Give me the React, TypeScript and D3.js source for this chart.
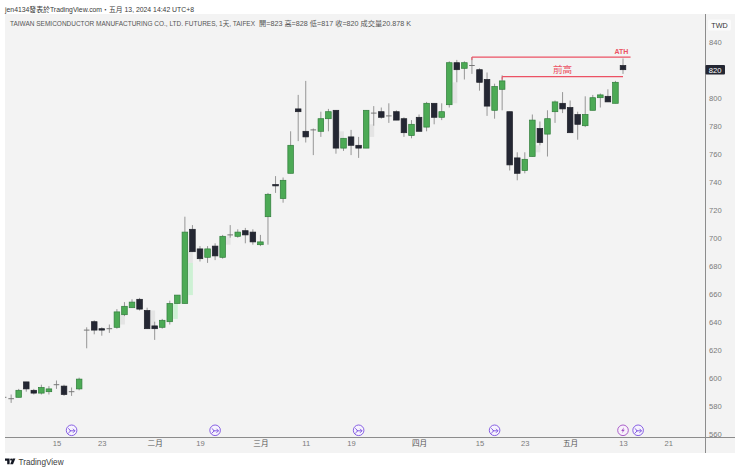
import React, { useEffect, useRef } from 'react';
import * as d3 from 'd3';

const opens = [586, 585, 586, 597, 591, 589, 590, 595, 594, 590, 592, 634, 640, 635, 635, 636, 645, 650, 656, 648, 637, 636, 640, 653, 653, 706, 692, 686, 694, 686, 702, 701, 705, 704, 695, 715, 738, 728, 746, 792, 776, 777, 776, 785, 791, 764, 772, 766, 764, 789, 790, 787, 790, 785, 773, 786, 779, 796, 786, 795, 825, 821, 823, 820, 813, 791, 806, 790, 757, 748, 758, 778, 774, 790, 796, 793, 788, 780, 791, 800, 801, 796, 823];
const highs = [588, 588, 592, 597, 592, 595, 594, 598, 595, 593, 600, 636, 641, 636, 638, 649, 654, 656, 657, 650, 640, 642, 655, 659, 715, 709, 694, 694, 696, 702, 709, 706, 707, 706, 702, 732, 744, 743, 776, 802, 812, 778, 790, 792, 791, 771, 777, 772, 791, 794, 793, 796, 791, 786, 784, 788, 797, 796, 796, 826, 827, 826, 829, 821, 818, 810, 816, 790, 761, 761, 788, 783, 791, 798, 804, 798, 790, 801, 802, 803, 806, 812, 828];
const lows = [584, 582, 586, 590, 588, 588, 588, 592, 587, 587, 591, 621, 631, 630, 632, 635, 644, 650, 648, 635, 627, 635, 638, 653, 653, 690, 683, 682, 684, 685, 700, 700, 696, 695, 694, 695, 732, 725, 746, 769, 768, 759, 772, 776, 760, 762, 759, 757, 764, 780, 785, 782, 784, 772, 771, 776, 776, 781, 784, 793, 811, 813, 817, 805, 787, 785, 791, 748, 741, 746, 758, 766, 758, 782, 789, 775, 770, 779, 791, 793, 797, 796, 817];
const closes = [586, 585, 591, 592, 589, 593, 592, 595, 588, 590, 599, 634, 634, 634, 635, 647, 651, 654, 649, 635, 635, 641, 653, 659, 704, 690, 685, 692, 687, 701, 702, 704, 702, 697, 697, 731, 737, 741, 766, 790, 772, 777, 785, 790, 764, 771, 766, 764, 791, 789, 786, 787, 784, 775, 781, 776, 796, 786, 790, 825, 820, 825, 823, 811, 794, 808, 812, 752, 746, 756, 784, 768, 785, 797, 792, 775, 781, 788, 800, 802, 797, 811, 820];

// pale bars sitting just right of some candles
const ghostIdx = [15, 19, 22, 24, 24, 29, 44, 48, 59, 70];
const ghostTop = [645, 648, 653, 690, 682, 701, 776, 781, 811, 766];
const ghostBottom = [638, 637, 642, 682, 659, 695, 771, 772, 796, 761];
const ghostGreen = [false, false, true, false, true, false, false, false, false, false];

const priceTicks = d3.range(560, 841, 20);
const dateIdx = [7, 13, 20, 26, 34, 40, 46, 55, 63, 69, 75, 82, 88];
const dateLabels = ['15', '23', '二月', '19', '三月', '11', '19', '四月', '15', '23', '五月', '13', '21'];
const monthLabels = ['二月', '三月', '四月', '五月'];

const splitIdx = [9, 28, 47, 65, 84];
const boltIdx = [82];

const athLine = { from: 62, to: 83, price: 829, label: 'ATH' };
const prevHighLine = { from: 66, to: 82, price: 815, label: '前高' };

const lastPrice = 820;
const headerText = 'jen4134發表於TradingView.com・五月 13, 2024 14:42 UTC+8';
const titleText = 'TAIWAN SEMICONDUCTOR MANUFACTURING CO., LTD. FUTURES, 1天, TAIFEX';
const ohlcText = '開=823  高=828  低=817  收=820  成交量20.878 K';

const FONT = '"Liberation Sans", "Noto Sans CJK TC", sans-serif';
const RED = '#ec5264';
const PURPLE = '#7a4fe0';

const App: React.FC = () => {
  const svgRef = useRef<SVGSVGElement>(null);

  useEffect(() => {
    if (!svgRef.current) return;
    const svg = d3.select(svgRef.current);
    svg.selectAll('*').remove();

    const panel = { left: 5, right: 735, top: 14, bottom: 453 };
    const plotRight = 705.5;
    const plotBottom = 437.5;

    const x = d3.scaleLinear().domain([0, 82]).range([3.6, 623]);
    const y = d3.scaleLinear().domain([560, 840]).range([433.7, 41.7]);

    svg.append('rect').attr('width', 740).attr('height', 472).attr('fill', '#fff');

    svg.append('text').attr('x', 5).attr('y', 11.5)
      .attr('font-size', 7.2).attr('fill', '#3a3a3a')
      .attr('textLength', 189).attr('lengthAdjust', 'spacingAndGlyphs')
      .text(headerText);

    svg.append('rect')
      .attr('x', panel.left).attr('y', panel.top)
      .attr('width', panel.right - panel.left).attr('height', panel.bottom - panel.top)
      .attr('fill', '#f3f3f3');

    svg.append('clipPath').attr('id', 'plot').append('rect')
      .attr('x', panel.left).attr('y', panel.top)
      .attr('width', plotRight - panel.left).attr('height', plotBottom - panel.top);

    svg.append('text').attr('x', 10).attr('y', 26)
      .attr('font-size', 7).attr('fill', '#555')
      .attr('textLength', 245).attr('lengthAdjust', 'spacingAndGlyphs')
      .text(titleText);
    svg.append('text').attr('x', 259).attr('y', 26)
      .attr('font-size', 7).attr('fill', '#555')
      .attr('textLength', 152).attr('lengthAdjust', 'spacingAndGlyphs')
      .text(ohlcText);

    const g = svg.append('g').attr('clip-path', 'url(#plot)');

    // ghost bars
    g.selectAll('rect.ghost').data(ghostIdx).join('rect')
      .attr('class', 'ghost')
      .attr('x', d => x(d) + 3.4)
      .attr('width', 4.6)
      .attr('y', (_, i) => y(ghostTop[i]))
      .attr('height', (_, i) => y(ghostBottom[i]) - y(ghostTop[i]))
      .attr('fill', (_, i) => (ghostGreen[i] ? '#cdf1d4' : '#e4e4e4'));

    const candles = opens.map((o, i) => ({ i, o, h: highs[i], l: lows[i], c: closes[i] }));

    g.selectAll('line.wick').data(candles).join('line')
      .attr('class', 'wick')
      .attr('x1', d => x(d.i)).attr('x2', d => x(d.i))
      .attr('y1', d => y(d.h)).attr('y2', d => y(d.l))
      .attr('stroke', '#969696').attr('stroke-width', 1);

    const bodyW = 5.6;
    g.selectAll('rect.body').data(candles.filter(d => d.o !== d.c)).join('rect')
      .attr('class', 'body')
      .attr('x', d => x(d.i) - bodyW / 2)
      .attr('width', bodyW)
      .attr('y', d => y(Math.max(d.o, d.c)))
      .attr('height', d => Math.abs(y(d.o) - y(d.c)))
      .attr('fill', d => (d.c > d.o ? '#4caa55' : '#242733'))
      .attr('stroke', d => (d.c > d.o ? '#2f7d3a' : '#1e2029'))
      .attr('stroke-width', 0.7);

    // dojis, open equals close
    g.selectAll('line.doji').data(candles.filter(d => d.o === d.c)).join('line')
      .attr('class', 'doji')
      .attr('x1', d => x(d.i) - bodyW / 2).attr('x2', d => x(d.i) + bodyW / 2)
      .attr('y1', d => y(d.c)).attr('y2', d => y(d.c))
      .attr('stroke', '#777').attr('stroke-width', 1);

    // drawn levels
    [athLine, prevHighLine].forEach(l => {
      g.append('line')
        .attr('x1', x(l.from)).attr('x2', x(l.to))
        .attr('y1', y(l.price)).attr('y2', y(l.price))
        .attr('stroke', RED).attr('stroke-width', 1.2);
      g.append('line')
        .attr('x1', x(l.from)).attr('x2', x(l.from))
        .attr('y1', y(l.price)).attr('y2', y(l.price) + 3)
        .attr('stroke', RED).attr('stroke-width', 1);
    });
    svg.append('text')
      .attr('x', x(82) - 1.5).attr('y', y(athLine.price) - 3.5)
      .attr('text-anchor', 'middle').attr('font-size', 7).attr('font-weight', 700)
      .attr('fill', RED).text(athLine.label);
    svg.append('text')
      .attr('x', x(74)).attr('y', y(prevHighLine.price) - 3.6)
      .attr('text-anchor', 'middle').attr('font-size', 9.6)
      .attr('fill', RED).text(prevHighLine.label);

    // axes
    const yAxis = svg.append('g')
      .attr('transform', `translate(${plotRight},0)`)
      .call(d3.axisRight(y).tickValues(priceTicks).tickSize(0).tickPadding(3.5).tickFormat(d => String(d)));
    yAxis.select('.domain').remove();
    yAxis.selectAll('text')
      .attr('font-size', 7.6).attr('font-family', FONT).attr('fill', '#7a7a7a');

    const xAxis = svg.append('g')
      .attr('transform', `translate(0,${plotBottom})`)
      .call(d3.axisBottom(x).tickValues(dateIdx).tickSize(0).tickPadding(3.5)
        .tickFormat((_, i) => dateLabels[i]));
    xAxis.select('.domain').remove();
    xAxis.selectAll<SVGTextElement, number>('text')
      .attr('font-size', 7.6).attr('font-family', FONT)
      .attr('fill', (_, i) => (monthLabels.includes(dateLabels[i]) ? '#555' : '#7a7a7a'));

    svg.append('line')
      .attr('x1', plotRight).attr('x2', plotRight)
      .attr('y1', panel.top).attr('y2', panel.bottom)
      .attr('stroke', '#8c8c8c').attr('stroke-width', 1);
    svg.append('line')
      .attr('x1', panel.left).attr('x2', panel.right)
      .attr('y1', plotBottom).attr('y2', plotBottom)
      .attr('stroke', '#8c8c8c').attr('stroke-width', 1);

    // currency box
    svg.append('rect')
      .attr('x', 708).attr('y', 19.5).attr('width', 23).attr('height', 11).attr('rx', 1.5)
      .attr('fill', '#fbfbfb');
    svg.append('text').attr('x', 719.5).attr('y', 27.8)
      .attr('text-anchor', 'middle').attr('font-size', 7.2).attr('fill', '#333').text('TWD');

    // last price tag
    svg.append('rect')
      .attr('x', plotRight).attr('y', y(lastPrice) - 4.7).attr('width', 19.5).attr('height', 9.6)
      .attr('rx', 1).attr('fill', '#242733');
    svg.append('text').attr('x', plotRight + 9.7).attr('y', y(lastPrice) + 2.8)
      .attr('text-anchor', 'middle').attr('font-size', 7.6).attr('fill', '#fff').text(String(lastPrice));

    // event icons along the bottom
    const iconY = 430.3;
    const split = svg.append('g').selectAll('g').data(splitIdx).join('g')
      .attr('transform', d => `translate(${x(d)},${iconY})`);
    split.append('circle').attr('r', 5.3).attr('fill', '#f6f3fd')
      .attr('stroke', PURPLE).attr('stroke-width', 0.9);
    split.append('path')
      .attr('d', 'M-3.4-2 L-0.8 0.5 L-3.4 3 M-2 0.5 H3.4 M1.4-1.5 L3.4 0.5 L1.4 2.5')
      .attr('fill', 'none').attr('stroke', PURPLE).attr('stroke-width', 0.9);

    const bolt = svg.append('g').selectAll('g').data(boltIdx).join('g')
      .attr('transform', d => `translate(${x(d)},${iconY})`);
    bolt.append('circle').attr('r', 5.3).attr('fill', '#f8f1fb')
      .attr('stroke', '#a24fc4').attr('stroke-width', 0.9);
    bolt.append('path')
      .attr('d', 'M1-3 L-1.8 0.6 H-0.2 L-1 3 L1.8-0.6 H0.2 Z')
      .attr('fill', '#a24fc4');

    // footer logo
    const logo = svg.append('g').attr('transform', 'translate(5,458.5)').attr('fill', '#131722');
    logo.append('path').attr('d', 'M0 0 H4.6 V5.8 H2.2 V2.2 H0 Z');
    logo.append('circle').attr('cx', 6.2).attr('cy', 1.1).attr('r', 1.1);
    logo.append('path').attr('d', 'M7.6 0 H10.4 L8 5.8 H5.2 Z');
    svg.append('text').attr('x', 18.5).attr('y', 465)
      .attr('font-size', 8.2).attr('fill', '#3c3c3c').text('TradingView');
  }, []);

  return (
    <svg
      ref={svgRef}
      width={740}
      height={472}
      viewBox="0 0 740 472"
      style={{ position: 'absolute', left: 0, top: 0, fontFamily: FONT }}
    />
  );
};

export default App;
